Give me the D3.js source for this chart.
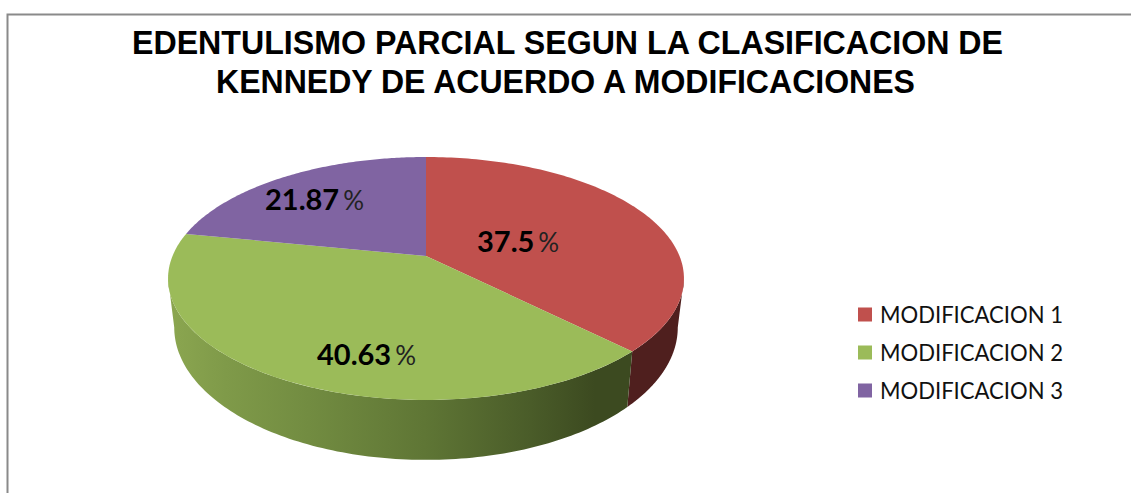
<!DOCTYPE html>
<html><head><meta charset="utf-8">
<script src="https://cdnjs.cloudflare.com/ajax/libs/d3/7.8.5/d3.min.js"></script>
<style>html,body{margin:0;padding:0;background:#fff}svg{display:block}</style>
</head><body><svg id="c" width="1131" height="493"></svg>
<script>
const categories = ["MODIFICACION 1","MODIFICACION 2","MODIFICACION 3"];
const values = [37.5,40.63,21.87];
const valueLabels = ["37.5","40.63","21.87"];
const colors = ["#c0504d","#9bbb59","#8064a2"];
const titleLines = ["EDENTULISMO PARCIAL SEGUN LA CLASIFICACION DE","KENNEDY DE ACUERDO A MODIFICACIONES"];

const svg = d3.select("#c");
const W=1131,H=493;
// frame
svg.append("path").attr("d",`M7.5 ${H}V14.5H${W}`).attr("fill","none").attr("stroke","#8a8a8a").attr("stroke-width",2);
// title
svg.selectAll("text.t").data(titleLines).join("text").attr("class","t")
 .attr("x",(d,i)=>i?565.5:567.5).attr("y",(d,i)=>i?93:53.5).attr("text-anchor","middle")
 .attr("font-family","Liberation Sans").attr("font-weight","bold").attr("font-size",33).attr("fill","#000")
 .attr("textLength",(d,i)=>i?699:871).attr("lengthAdjust","spacingAndGlyphs").text(d=>d);

// perspective projection of the pie disc
const cx=426,cy=256,a=253.5,b=117.3,k=0.185;
const sx=0.976, dy=47, sy=1.09;
const topPt=t=>{const u=Math.sin(t),v=-Math.cos(t),w=1-k*v;return [cx+a*u/w,cy+b*v/w];};
const botPt=t=>{const p=topPt(t);return [cx+(p[0]-cx)*sx,cy+dy+(p[1]-cy)*sy];};
const line=d3.line();
const arcs=d3.pie().sort(null)(values);
const samples=(s,e)=>d3.range(0,121).map(i=>s+(e-s)*i/120);

const defs=svg.append("defs");
const g=defs.append("linearGradient").attr("id","gw").attr("gradientUnits","userSpaceOnUse")
 .attr("x1",170).attr("x2",632).attr("y1",0).attr("y2",0);
[[0,"#8ba650"],[0.12,"#7f9a49"],[0.3,"#728c41"],[0.55,"#5f7635"],[0.78,"#4a5c29"],[0.92,"#3c4a20"],[1,"#3c4a20"]]
 .forEach(s=>g.append("stop").attr("offset",s[0]).attr("stop-color",s[1]));

const tR=Math.PI-Math.acos(k), tL=2*Math.PI-tR;
const wall=(s,e)=>{const ts=samples(s,e);return line(ts.map(topPt).concat(ts.slice().reverse().map(botPt)))+"Z";};
svg.append("path").attr("d",wall(tR,arcs[0].endAngle)).attr("fill","#4f1f1e");
svg.append("path").attr("d",wall(arcs[1].startAngle,tL)).attr("fill","url(#gw)");

// top face
svg.selectAll("path.s").data(arcs).join("path").attr("class","s")
 .attr("d",d=>line([[cx,cy]].concat(samples(d.startAngle,d.endAngle).map(topPt)))+"Z")
 .attr("fill",(d,i)=>colors[i]);

// value labels, placed by hand as in the source chart
const labelPos=[[477,252],[317,365],[265,210]];
valueLabels.forEach((t,i)=>{
 const x=svg.append("text").attr("x",labelPos[i][0]).attr("y",labelPos[i][1])
  .attr("font-family","Lato").attr("font-size",29).attr("fill","#000");
 x.append("tspan").attr("font-weight","bold").text(t);
 x.append("tspan").attr("dx",4).attr("font-size",26).attr("fill","#222").text("%");
});

// legend
const ly=d3.scalePoint().domain(categories).range([314.5,390.5]);
svg.selectAll("rect.l").data(categories).join("rect").attr("class","l")
 .attr("x",858).attr("y",d=>ly(d)-7).attr("width",14).attr("height",14).attr("fill",(d,i)=>colors[i]);
svg.selectAll("text.l").data(categories).join("text").attr("class","l")
 .attr("x",880).attr("y",d=>ly(d)+8).attr("font-family","Lato").attr("font-size",24).attr("fill","#111")
 .attr("textLength",183).attr("lengthAdjust","spacingAndGlyphs").text(d=>d);
</script></body></html>
